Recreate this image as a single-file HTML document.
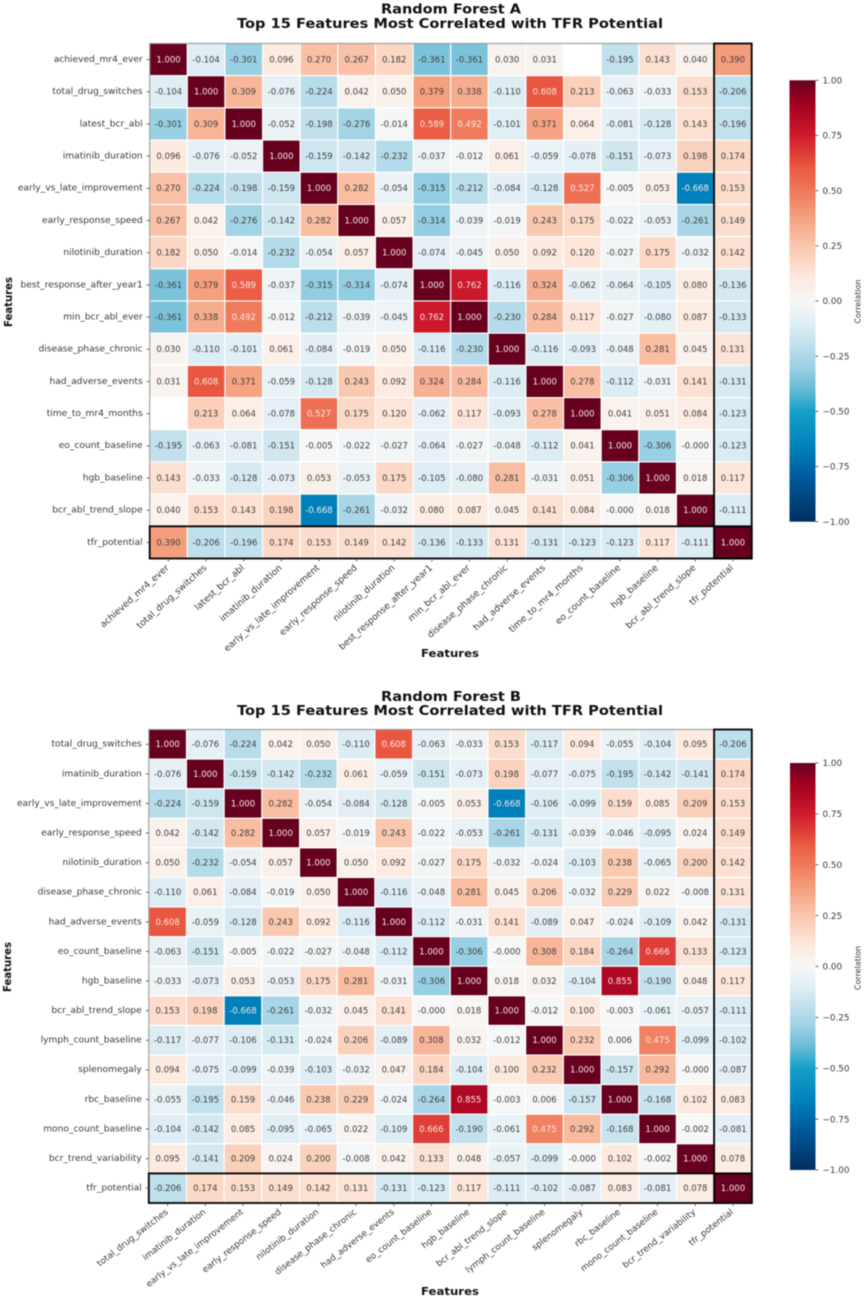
<!DOCTYPE html>
<html lang="en">
<head>
<meta charset="utf-8">
<title>Top 15 Features Most Correlated with TFR Potential</title>
<style>
  html, body { margin: 0; padding: 0; background: #fff; }
  #figure { display: block; width: 865px; height: 1298px; filter: blur(0.45px); }
  text { font-family: "DejaVu Sans", "Liberation Sans", sans-serif; }
</style>
</head>
<body>
<svg id="figure" xmlns="http://www.w3.org/2000/svg" width="865" height="1298" viewBox="0 0 865 1298">
  <defs id="defs"></defs>
  <rect width="865" height="1298" fill="#fff"></rect>

  <g id="panel-a">
    <text x="451" y="13.5" text-anchor="middle" font-size="13.5" font-weight="700" fill="#111" textLength="140" lengthAdjust="spacingAndGlyphs">Random Forest A</text>
    <text x="450" y="28" text-anchor="middle" font-size="13.5" font-weight="700" fill="#111" textLength="426" lengthAdjust="spacingAndGlyphs">Top 15 Features Most Correlated with TFR Potential</text>
    <text transform="translate(12,302) rotate(-90)" text-anchor="middle" font-size="11" font-weight="700" fill="#111" textLength="50" lengthAdjust="spacingAndGlyphs">Features</text>
    <text x="450" y="657" text-anchor="middle" font-size="11" font-weight="700" fill="#111" textLength="58" lengthAdjust="spacingAndGlyphs">Features</text>
    <text transform="translate(860.5,301.5) rotate(-90)" text-anchor="middle" font-size="8" fill="#333">Correlation</text>
  </g>

  <g id="panel-b">
    <text x="451" y="701" text-anchor="middle" font-size="13.5" font-weight="700" fill="#111" textLength="140" lengthAdjust="spacingAndGlyphs">Random Forest B</text>
    <text x="450" y="715" text-anchor="middle" font-size="13.5" font-weight="700" fill="#111" textLength="426" lengthAdjust="spacingAndGlyphs">Top 15 Features Most Correlated with TFR Potential</text>
    <text transform="translate(11,967) rotate(-90)" text-anchor="middle" font-size="11" font-weight="700" fill="#111" textLength="50" lengthAdjust="spacingAndGlyphs">Features</text>
    <text x="450" y="1295" text-anchor="middle" font-size="11" font-weight="700" fill="#111" textLength="58" lengthAdjust="spacingAndGlyphs">Features</text>
    <text transform="translate(860.5,968) rotate(-90)" text-anchor="middle" font-size="8" fill="#333">Correlation</text>
  </g>
</svg>

<script>
const featuresA = ["achieved_mr4_ever","total_drug_switches","latest_bcr_abl","imatinib_duration","early_vs_late_improvement","early_response_speed","nilotinib_duration","best_response_after_year1","min_bcr_abl_ever","disease_phase_chronic","had_adverse_events","time_to_mr4_months","eo_count_baseline","hgb_baseline","bcr_abl_trend_slope","tfr_potential"];
const valuesA = [
  [1,-0.104,-0.301,0.096,0.270,0.267,0.182,-0.361,-0.361,0.030,0.031,null,-0.195,0.143,0.040,0.390],
  [-0.104,1,0.309,-0.076,-0.224,0.042,0.050,0.379,0.338,-0.110,0.608,0.213,-0.063,-0.033,0.153,-0.206],
  [-0.301,0.309,1,-0.052,-0.198,-0.276,-0.014,0.589,0.492,-0.101,0.371,0.064,-0.081,-0.128,0.143,-0.196],
  [0.096,-0.076,-0.052,1,-0.159,-0.142,-0.232,-0.037,-0.012,0.061,-0.059,-0.078,-0.151,-0.073,0.198,0.174],
  [0.270,-0.224,-0.198,-0.159,1,0.282,-0.054,-0.315,-0.212,-0.084,-0.128,0.527,-0.005,0.053,-0.668,0.153],
  [0.267,0.042,-0.276,-0.142,0.282,1,0.057,-0.314,-0.039,-0.019,0.243,0.175,-0.022,-0.053,-0.261,0.149],
  [0.182,0.050,-0.014,-0.232,-0.054,0.057,1,-0.074,-0.045,0.050,0.092,0.120,-0.027,0.175,-0.032,0.142],
  [-0.361,0.379,0.589,-0.037,-0.315,-0.314,-0.074,1,0.762,-0.116,0.324,-0.062,-0.064,-0.105,0.080,-0.136],
  [-0.361,0.338,0.492,-0.012,-0.212,-0.039,-0.045,0.762,1,-0.230,0.284,0.117,-0.027,-0.080,0.087,-0.133],
  [0.030,-0.110,-0.101,0.061,-0.084,-0.019,0.050,-0.116,-0.230,1,-0.116,-0.093,-0.048,0.281,0.045,0.131],
  [0.031,0.608,0.371,-0.059,-0.128,0.243,0.092,0.324,0.284,-0.116,1,0.278,-0.112,-0.031,0.141,-0.131],
  [null,0.213,0.064,-0.078,0.527,0.175,0.120,-0.062,0.117,-0.093,0.278,1,0.041,0.051,0.084,-0.123],
  [-0.195,-0.063,-0.081,-0.151,-0.005,-0.022,-0.027,-0.064,-0.027,-0.048,-0.112,0.041,1,-0.306,-0,-0.123],
  [0.143,-0.033,-0.128,-0.073,0.053,-0.053,0.175,-0.105,-0.080,0.281,-0.031,0.051,-0.306,1,0.018,0.117],
  [0.040,0.153,0.143,0.198,-0.668,-0.261,-0.032,0.080,0.087,0.045,0.141,0.084,-0,0.018,1,-0.111],
  [0.390,-0.206,-0.196,0.174,0.153,0.149,0.142,-0.136,-0.133,0.131,-0.131,-0.123,-0.123,0.117,-0.111,1]
];
const featuresB = ["total_drug_switches","imatinib_duration","early_vs_late_improvement","early_response_speed","nilotinib_duration","disease_phase_chronic","had_adverse_events","eo_count_baseline","hgb_baseline","bcr_abl_trend_slope","lymph_count_baseline","splenomegaly","rbc_baseline","mono_count_baseline","bcr_trend_variability","tfr_potential"];
const valuesB = [
  [1,-0.076,-0.224,0.042,0.050,-0.110,0.608,-0.063,-0.033,0.153,-0.117,0.094,-0.055,-0.104,0.095,-0.206],
  [-0.076,1,-0.159,-0.142,-0.232,0.061,-0.059,-0.151,-0.073,0.198,-0.077,-0.075,-0.195,-0.142,-0.141,0.174],
  [-0.224,-0.159,1,0.282,-0.054,-0.084,-0.128,-0.005,0.053,-0.668,-0.106,-0.099,0.159,0.085,0.209,0.153],
  [0.042,-0.142,0.282,1,0.057,-0.019,0.243,-0.022,-0.053,-0.261,-0.131,-0.039,-0.046,-0.095,0.024,0.149],
  [0.050,-0.232,-0.054,0.057,1,0.050,0.092,-0.027,0.175,-0.032,-0.024,-0.103,0.238,-0.065,0.200,0.142],
  [-0.110,0.061,-0.084,-0.019,0.050,1,-0.116,-0.048,0.281,0.045,0.206,-0.032,0.229,0.022,-0.008,0.131],
  [0.608,-0.059,-0.128,0.243,0.092,-0.116,1,-0.112,-0.031,0.141,-0.089,0.047,-0.024,-0.109,0.042,-0.131],
  [-0.063,-0.151,-0.005,-0.022,-0.027,-0.048,-0.112,1,-0.306,-0,0.308,0.184,-0.264,0.666,0.133,-0.123],
  [-0.033,-0.073,0.053,-0.053,0.175,0.281,-0.031,-0.306,1,0.018,0.032,-0.104,0.855,-0.190,0.048,0.117],
  [0.153,0.198,-0.668,-0.261,-0.032,0.045,0.141,-0,0.018,1,-0.012,0.100,-0.003,-0.061,-0.057,-0.111],
  [-0.117,-0.077,-0.106,-0.131,-0.024,0.206,-0.089,0.308,0.032,-0.012,1,0.232,0.006,0.475,-0.099,-0.102],
  [0.094,-0.075,-0.099,-0.039,-0.103,-0.032,0.047,0.184,-0.104,0.100,0.232,1,-0.157,0.292,-0,-0.087],
  [-0.055,-0.195,0.159,-0.046,0.238,0.229,-0.024,-0.264,0.855,-0.003,0.006,-0.157,1,-0.168,0.102,0.083],
  [-0.104,-0.142,0.085,-0.095,-0.065,0.022,-0.109,0.666,-0.190,-0.061,0.475,0.292,-0.168,1,-0.002,-0.081],
  [0.095,-0.141,0.209,0.024,0.200,-0.008,0.042,0.133,0.048,-0.057,-0.099,-0,0.102,-0.002,1,0.078],
  [-0.206,0.174,0.153,0.149,0.142,0.131,-0.131,-0.123,0.117,-0.111,-0.102,-0.087,0.083,-0.081,0.078,1]
];
const colorbarTicks = [1, 0.75, 0.5, 0.25, 0, -0.25, -0.5, -0.75, -1];

const SVG_NS = "http://www.w3.org/2000/svg";
const colorStops = [
  [-1, "#032e60"], [-0.8, "#005a9c"], [-0.668, "#0080bb"], [-0.5, "#14a0c8"],
  [-0.4, "#66bbd6"], [-0.3, "#9ad0e4"], [-0.2, "#c0e0ec"], [-0.1, "#e0eef5"],
  [0, "#f7f7f7"], [0.1, "#fdeadf"], [0.25, "#fac6ad"], [0.4, "#f49a78"],
  [0.5, "#f0785a"], [0.6, "#ea5a42"], [0.75, "#d01a2c"], [0.9, "#a00020"], [1, "#67001f"]
];

function hexToRgb(hex) {
  return [1, 3, 5].map(function (i) { return parseInt(hex.substr(i, 2), 16); });
}
function colorFor(value) {
  for (let i = 1; i < colorStops.length; i++) {
    if (value <= colorStops[i][0]) {
      const a = colorStops[i - 1], b = colorStops[i];
      const t = (value - a[0]) / (b[0] - a[0]);
      const ca = hexToRgb(a[1]), cb = hexToRgb(b[1]);
      return "rgb(" + ca.map(function (c, k) { return Math.round(c + (cb[k] - c) * t); }).join(",") + ")";
    }
  }
  return colorStops[colorStops.length - 1][1];
}
function formatValue(v) {
  if (Object.is(v, -0)) return "-0.000";
  return v.toFixed(3);
}
function formatColorbarTick(v) {
  return (v < 0 ? "\u2212" : "") + Math.abs(v).toFixed(2);
}
function make(tag, attrs, parent) {
  const node = document.createElementNS(SVG_NS, tag);
  Object.keys(attrs).forEach(function (k) { node.setAttribute(k, attrs[k]); });
  parent.appendChild(node);
  return node;
}

function drawHeatmap(parent, prefix, features, values, box, cbar, angle, xLabelSize, gradientId) {
  const n = features.length;
  const cellW = box.w / n, cellH = box.h / n;
  const xScale = function (i) { return box.x + i * cellW; };
  const yScale = function (i) { return box.y + i * cellH; };
  const cbarScale = function (v) { return cbar.y + (1 - v) / 2 * cbar.h; };

  values.forEach(function (row, r) {
    row.forEach(function (v, c) {
      const isBlank = v === null;
      const cell = make("rect", {
        x: xScale(c), y: yScale(r), width: cellW, height: cellH,
        fill: isBlank ? "#ffffff" : colorFor(v), stroke: "#ffffff", "stroke-width": 1.1
      }, parent);
      
      
      if (!isBlank) {
        const label = make("text", {
          x: xScale(c) + cellW / 2, y: yScale(r) + cellH / 2 + 2.9,
          "text-anchor": "middle", "font-size": 8.5,
          fill: Math.abs(v) > 0.45 ? "#f6e9e4" : "#404040"
        }, parent);
        label.textContent = formatValue(v);
        
        
      }
    });
  });

  const frame = make("rect", { x: box.x, y: box.y, width: box.w, height: box.h, fill: "none", stroke: "#777", "stroke-width": 0.8 }, parent);
  
  

  const colBox = make("rect", { x: xScale(n - 1), y: box.y, width: cellW, height: box.h, fill: "none", stroke: "#000", "stroke-width": 1.8 }, parent);
  
  

  const rowBox = make("rect", { x: box.x, y: yScale(n - 1), width: box.w, height: cellH, fill: "none", stroke: "#000", "stroke-width": 1.8 }, parent);
  
  

  features.forEach(function (name, i) {
    const cy = yScale(i) + cellH / 2;
    const cx = xScale(i) + cellW / 2;

    const yTick = make("line", { x1: box.x - 3, x2: box.x, y1: cy, y2: cy, stroke: "#444", "stroke-width": 0.8 }, parent);
    
    

    const yLabel = make("text", { x: box.x - 7, y: cy + 2.4, "text-anchor": "end", "font-size": 9.1, fill: "#3a3a3a" }, parent);
    yLabel.textContent = name;
    
    

    const xTick = make("line", { x1: cx, x2: cx, y1: box.y + box.h, y2: box.y + box.h + 3, stroke: "#444", "stroke-width": 0.8 }, parent);
    
    

    const lx = cx + 1, ly = box.y + box.h + 10;
    const xLabel = make("text", { x: lx, y: ly, "text-anchor": "end", "font-size": xLabelSize, fill: "#3a3a3a", transform: "rotate(" + (-angle) + " " + lx + " " + ly + ")" }, parent);
    xLabel.textContent = name;
    
    
  });

  const gradient = make("linearGradient", { id: gradientId, x1: 0, y1: 1, x2: 0, y2: 0 }, document.getElementById("defs"));
  colorStops.forEach(function (s) {
    make("stop", { offset: (s[0] + 1) / 2, "stop-color": s[1] }, gradient);
  });
  const bar = make("rect", { x: cbar.x, y: cbar.y, width: cbar.w, height: cbar.h, fill: "url(#" + gradientId + ")" }, parent);
  
  

  colorbarTicks.forEach(function (v) {
    const ty = cbarScale(v);
    const tick = make("line", { x1: cbar.x + cbar.w, x2: cbar.x + cbar.w + 3, y1: ty, y2: ty, stroke: "#444", "stroke-width": 0.8 }, parent);
    
    
    const tickLabel = make("text", { x: cbar.x + cbar.w + 7, y: ty + 3.2, "font-size": 8.8, fill: "#3a3a3a" }, parent);
    tickLabel.textContent = formatColorbarTick(v);
    
    
  });
}

drawHeatmap(document.getElementById("panel-a"), "chart-a", featuresA, valuesA,
  { x: 149.7, y: 43.5, w: 602, h: 515 }, { x: 789.5, y: 80.3, w: 26, h: 441.4 }, 42, 9.1, "cbar-a");
drawHeatmap(document.getElementById("panel-b"), "chart-b", featuresB, valuesB,
  { x: 148.8, y: 729.5, w: 603, h: 473.5 }, { x: 790, y: 763, w: 25.5, h: 407 }, 38, 8.8, "cbar-b");
</script>
</body>
</html>
